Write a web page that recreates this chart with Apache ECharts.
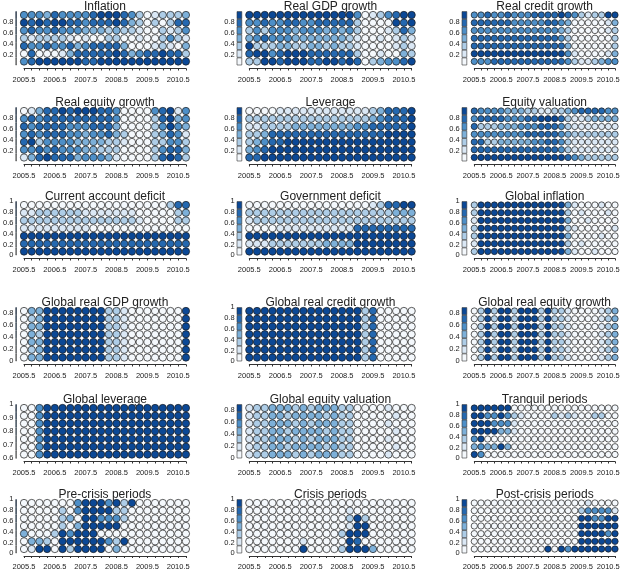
<!DOCTYPE html>
<html>
<head>
<meta charset="UTF-8">
<title>Early warning indicator grids</title>
<script src="https://cdn.jsdelivr.net/npm/echarts@6/dist/echarts.min.js"></script>
<style>
  html, body { margin: 0; padding: 0; background: #fff; }
  #chart { width: 640px; height: 571px; }
</style>
</head>
<body>
<div id="chart"></div>
<script>
// quarters shown on every panel: 2005.5 .. 2010.75
var X_START = 2005.5;
var X_STEP = 0.25;

// colour class of each circle, 0 = white .. 6 = darkest blue; 7 rows x 22 quarters
var inflation = ['4443544445666542012223', '6565665545556532020255', '4544544433323221002124', '2122221010022001002421', '5445445345555300012103', '0500013555556534556552', '4566666655666666666666'];
var realGdp = ['6666666666666640124566', '4454455445555520000656', '2424443444343420001253', '3454443333333210010121', '6222332233232210000121', '5664566655555520010032', '2266566655665650234456'];
var realCredit = ['4454454445555654212266', '5555554444455430000013', '4444444444444320000012', '5555555555555420000002', '5555555555555530000002', '6666666666666641000013', '4445555555555542112344'];
var realEquity = ['0135565666554000045614', '4545555555554000025634', '5455554445553000024643', '4545554434453200023541', '5624444333322100022442', '4454544433222000024553', '1356555344431000025652'];
var leverage = ['0000111111111111235556', '2222222222222222345556', '1122223333333344555556', '2235555555555555556666', '2345566666666666666666', '3456666666666666666666', '5566666666666666666666'];
var equityVal = ['5444433322112234555544', '4555544455666521123333', '5222333444555421111111', '4444444455555432222222', '5522333334455421111111', '5555555555555421111111', '6666666666666654322222'];
var currentAcc = ['0000000000000000000255', '1122222211111110000023', '2222222222222221000022', '1111111110000000000000', '6666666666666666666666', '5555555555555555555555', '6666666666666666666666'];
var govDeficit = ['0000000000000000125566', '2222222222222222222333', '1222222222222222222222', '0000111111111155555555', '6666666666666666666666', '1112222222333366666666', '6666666666666666666666'];
var globInfl = ['2666666666666631000100', '2666666666666620100010', '1666666666666630010000', '2666666666666621000001', '2666666666666630000100', '1666666666666620100000', '2666666666666631001000'];
var globGdp = ['0336666666622100000006', '0236666666622100000006', '0336666666622100000006', '0326666666622100000006', '0336666666622100000006', '0236666666622100000006', '0336666666622100000006'];
var globCredit = ['6666666666666662500000', '6666666666666662500000', '6666666666666662500000', '6666666666666662500000', '6666666666666662500000', '6666666666666662500000', '6666666666666662500000'];
var globEquity = ['0262662666262210000123', '0262662666262210000123', '0262662666262210000123', '0262662666262210000123', '0262662666262210000123', '0262662666262210000123', '0262662666262210000123'];
var globLev = ['0046666666666666666666', '0046666666666666666666', '0046666666666666666666', '0046666666666666666666', '0046666666666666666666', '0046666666666666666666', '0046666666666666666666'];
var globVal = ['1223332323332200001000', '1223323333232200000100', '1223332323332200001000', '1223323333232200000100', '1223332323332200001000', '1223323333232200000100', '1223332323332200001000'];
var tranquil = ['6666660000000000000000', '6644642100002121002200', '6664441000000000000000', '6666331000000000000000', '4600000000000000000000', '3433630000000000000000', '6400000000000000000000'];
var preCrisis = ['0000000466646260000000', '0000020466662200000000', '0000023066444200000000', '0000020366666000000000', '3000264666000000000000', '0332066666642600000000', '0166062666603000000000'];
var crisis = ['0000000000000000000000', '0000000000000100000000', '0000000000000262000000', '0000000000000166000000', '0000000000002666000000', '0000000100000650000000', '0000000600002666300000'];
var postCrisis = ['0000000000000000010000', '0000000000000000244441', '0000000000000000664466', '0000000000000000666666', '0000000000000000666646', '0000000000000000666666', '0000000000060646666666'];

var titles = ['Inflation', 'Real GDP growth', 'Real credit growth',
  'Real equity growth', 'Leverage', 'Equity valuation',
  'Current account deficit', 'Government deficit', 'Global inflation',
  'Global real GDP growth', 'Global real credit growth', 'Global real equity growth',
  'Global leverage', 'Global equity valuation', 'Tranquil periods',
  'Pre-crisis periods', 'Crisis periods', 'Post-crisis periods'];
var panels = [inflation, realGdp, realCredit, realEquity, leverage, equityVal,
  currentAcc, govDeficit, globInfl, globGdp, globCredit, globEquity,
  globLev, globVal, tranquil, preCrisis, crisis, postCrisis];

// colour bar scale of each panel
var cbMin = [0, 0, 0, 0, 0, 0, 0, 0, 0, 0, 0, 0, 0.6, 0, 0, 0, 0, 0];
var cbMax = [1, 1, 1, 1, 1, 1, 1, 1, 1, 0.9, 1, 0.9, 1, 0.9, 1, 1, 1, 1];
var cbStep = [0.2, 0.2, 0.2, 0.2, 0.2, 0.2, 0.2, 0.2, 0.2, 0.2, 0.2, 0.2, 0.1, 0.2, 0.2, 0.2, 0.2, 0.2];
var cbShowEnds = [false, false, false, false, false, false, true, true, true, 'min', true, 'min', true, 'min', true, true, true, true];

var PALETTE = ['#f4f8fc', '#dbe8f5', '#aecde7', '#7db0d9', '#4d8fc8', '#2468b0', '#0b4896'];

// layout (px)
var colX = [24, 249.3, 474.3];
var colDx = [7.71, 7.73, 6.7];
var rowY = [15, 111, 205, 311, 408, 503];
var DY = 7.75;

var chart = echarts.init(document.getElementById('chart'), null, { renderer: 'canvas' });

var grid = [], xAxis = [], yAxis = [], series = [], graphic = [];
var n = panels.length;

for (var k = 0; k < n; k++) {
  var c = k % 3, r = Math.floor(k / 3);
  var x0 = colX[c], dx = colDx[c], y0 = rowY[r];

  // circle grid
  grid.push({ left: x0, top: y0, width: 21 * dx, height: 6 * DY });
  xAxis.push({
    type: 'value', gridIndex: k, min: X_START, max: X_START + 21 * X_STEP, interval: X_STEP,
    position: 'bottom', offset: 7,
    axisLine: { lineStyle: { color: '#333', width: 1 } },
    axisTick: { length: 2, lineStyle: { color: '#333', width: 1 } },
    splitLine: { show: false },
    axisLabel: {
      fontSize: 7.5, color: '#222', margin: 7, fontFamily: 'Liberation Sans, Arial',
      formatter: function (v) {
        var q = Math.round(v * 4);
        return (q % 4 === 2 && v < 2010.6) ? v.toFixed(1) : '';
      }
    }
  });
  yAxis.push({ type: 'value', gridIndex: k, min: 1, max: 7, show: false });

  var pts = [];
  panels[k].forEach(function (row, i) {
    for (var j = 0; j < row.length; j++) {
      pts.push([X_START + j * X_STEP, 7 - i, +row[j]]);
    }
  });
  series.push({
    type: 'scatter', xAxisIndex: k, yAxisIndex: k, data: pts,
    symbolSize: Math.min(dx, DY) - 0.4, clip: false, silent: true,
    itemStyle: {
      borderColor: '#1a1a1a', borderWidth: 0.7, opacity: 1,
      color: function (p) { return PALETTE[p.data[2]]; }
    }
  });

  graphic.push({
    type: 'text', x: x0 + 10.5 * dx, y: y0 - 8,
    style: {
      text: titles[k], fill: '#222', font: '12px "Liberation Sans", Arial',
      textAlign: 'center', textVerticalAlign: 'middle'
    }
  });
}

// colour bars
for (var k = 0; k < n; k++) {
  var c = k % 3, r = Math.floor(k / 3);
  var gi = n + k;
  grid.push({ left: colX[c] - 12.6, top: rowY[r] - 3.7, width: 5.4, height: 54 });
  xAxis.push({ type: 'category', gridIndex: gi, data: ['cb'], show: false });
  var ends = cbShowEnds[k];
  yAxis.push({
    type: 'value', gridIndex: gi, min: cbMin[k], max: cbMax[k], interval: cbStep[k],
    axisLine: { show: false }, axisTick: { show: false }, splitLine: { show: false },
    axisLabel: {
      fontSize: 7.5, color: '#222', margin: 2, fontFamily: 'Liberation Sans, Arial',
      showMinLabel: ends === true || ends === 'min',
      showMaxLabel: ends === true
    }
  });
  var seg = (cbMax[k] - cbMin[k]) / PALETTE.length;
  for (var s = 0; s < PALETTE.length; s++) {
    series.push({
      type: 'bar', xAxisIndex: gi, yAxisIndex: gi, stack: 'cb' + k, barWidth: '100%', silent: true,
      data: [s === 0 ? cbMin[k] + seg : seg],
      itemStyle: { color: PALETTE[s], borderColor: '#333', borderWidth: 0.6 }
    });
  }
}

chart.setOption({
  animation: false,
  backgroundColor: '#fff',
  grid: grid, xAxis: xAxis, yAxis: yAxis, series: series, graphic: graphic
});
</script>
</body>
</html>
